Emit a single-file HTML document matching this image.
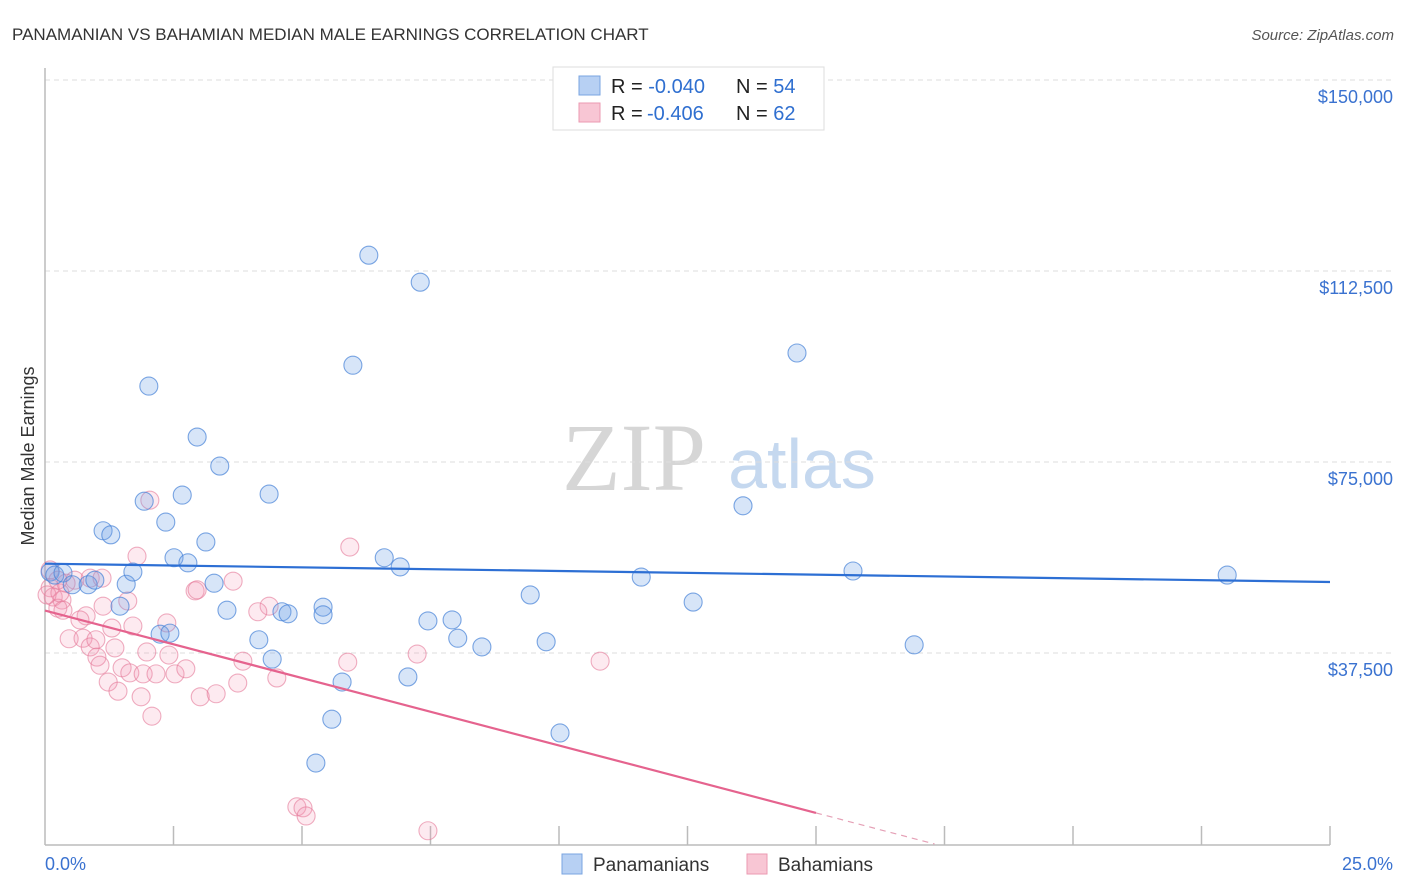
<!DOCTYPE html>
<html><head><meta charset="utf-8">
<style>
body{margin:0;background:#fff;font-family:"Liberation Sans",sans-serif;}
svg{display:block}
</style></head>
<body>
<svg id="chart" width="1406" height="892" viewBox="0 0 1406 892" xmlns="http://www.w3.org/2000/svg">
<text x="12" y="40" font-size="17" fill="#333">PANAMANIAN VS BAHAMIAN MEDIAN MALE EARNINGS CORRELATION CHART</text>
<text x="1394" y="40" font-size="15" fill="#555" font-style="italic" text-anchor="end">Source: ZipAtlas.com</text>
<g>
<text x="634" y="490" font-family="Liberation Serif,serif" font-size="96" fill="#d6d6d6" text-anchor="middle">ZIP</text>
<text x="802" y="488" font-size="70" fill="#c5d8ef" text-anchor="middle">atlas</text>
</g>
<g id="grid"></g>
<g id="axes"></g>
<text transform="translate(34,456) rotate(-90)" font-size="18" fill="#333" text-anchor="middle">Median Male Earnings</text>
<g id="points"></g>
<g id="trends"></g>
<g>
<rect x="553" y="67" width="271" height="63" fill="#fff" stroke="#ddd"/>
<rect x="579" y="76" width="21" height="19" fill="#b7d0f3" stroke="#7aa4e0"/>
<rect x="579" y="103" width="21" height="19" fill="#f8c6d4" stroke="#eb9ab2"/>
<text x="611" y="93" font-size="20" fill="#222">R = <tspan fill="#2f6fd0">-0.040</tspan><tspan x="736">N = </tspan><tspan fill="#2f6fd0">54</tspan></text>
<text x="611" y="120" font-size="20" fill="#222">R = <tspan fill="#2f6fd0" x="647">-0.406</tspan><tspan x="736">N = </tspan><tspan fill="#2f6fd0">62</tspan></text>
</g>
<g>
<rect x="562" y="854" width="20" height="20" fill="#b7d0f3" stroke="#7aa4e0"/>
<text x="593" y="871" font-size="19" fill="#333">Panamanians</text>
<rect x="747" y="854" width="20" height="20" fill="#f8c6d4" stroke="#eb9ab2"/>
<text x="778" y="871" font-size="19" fill="#333">Bahamians</text>
</g>
</svg>
<script>
const xTickLabels = ["0.0%", "25.0%"];
const yTicks = [37500, 75000, 112500, 150000];
const yTickLabels = ["$37,500", "$75,000", "$112,500", "$150,000"];
const blueX = [0.10,0.19,0.35,0.53,0.84,0.97,1.13,1.28,1.46,1.58,1.71,1.93,2.02,2.24,2.35,2.51,2.67,2.78,2.96,3.13,3.29,3.40,3.54,4.16,4.36,4.42,4.61,4.73,5.41,5.41,5.58,5.78,5.99,6.30,6.60,6.91,7.06,7.30,7.45,7.92,8.03,8.50,9.44,9.75,10.02,11.60,12.61,13.58,14.63,15.72,16.91,23.00,5.27,2.43];
const blueY = [53.4,52.8,53.2,50.9,50.9,51.8,61.5,60.7,46.7,51.0,53.4,67.3,89.9,41.2,63.2,56.2,68.5,55.2,79.9,59.3,51.2,74.2,45.9,40.1,68.7,36.3,45.6,45.2,46.5,45.0,24.5,31.8,94.0,115.6,56.2,54.4,32.8,110.3,43.8,44.0,40.4,38.7,48.9,39.7,21.8,52.4,47.5,66.4,96.4,53.6,39.1,52.8,15.9,41.4];
const pinkX = [1.79,3.66,2.92,4.36,4.14,1.61,1.13,0.80,1.30,1.71,2.37,0.47,0.74,1.36,1.98,2.41,0.88,1.01,1.07,1.50,1.65,1.91,2.16,2.53,2.74,3.85,3.75,4.51,1.23,1.42,1.87,3.02,3.33,2.08,4.90,5.02,5.08,5.89,0.10,0.16,0.33,0.25,0.35,0.58,0.88,0.10,2.04,2.96,5.93,7.24,7.45,10.80,0.04,0.29,0.41,1.11,0.68,0.99,0.25];
const pinkY = [56.5,51.6,49.7,46.7,45.6,47.7,46.7,44.8,42.4,42.8,43.4,40.3,40.4,38.5,37.7,37.1,38.7,36.7,35.1,34.6,33.6,33.4,33.4,33.4,34.4,35.9,31.6,32.6,31.8,30.0,28.9,28.9,29.5,25.1,7.3,7.1,5.5,35.7,50.3,48.5,47.9,46.3,45.9,51.8,52.2,53.8,67.5,49.9,58.3,37.3,2.6,35.9,48.9,49.3,51.2,52.2,44.0,40.1,51.8];

const NS="http://www.w3.org/2000/svg";
const X0=45,X1=1330,Y0=844,PX_PER_K=191/37.5;
const sx=p=>X0+(p/25)*(X1-X0);
const sy=k=>Y0-k*PX_PER_K;
function mk(tag,attrs,parent){const e=document.createElementNS(NS,tag);for(const k in attrs)e.setAttribute(k,attrs[k]);parent.appendChild(e);return e;}
const grid=document.getElementById('grid'),axes=document.getElementById('axes');
yTicks.forEach((v,i)=>{
  const y=sy(v/1000);
  const l=mk('line',{x1:X0,x2:1393,y1:y,y2:y,stroke:'#ddd','stroke-dasharray':'5,4'},grid);
  
  
  const t=mk('text',{x:1393,y:y+23,'font-size':18,fill:'#3a72d0','text-anchor':'end'},axes);
  t.textContent=yTickLabels[i];
  
  
});
mk('line',{x1:X0,x2:X0,y1:68,y2:Y0+1,stroke:'#bbb','stroke-width':1.5},axes);
mk('line',{x1:X0,x2:X1,y1:Y0+1,y2:Y0+1,stroke:'#bbb','stroke-width':1.5},axes);
for(let i=1;i<=10;i++){const x=X0+i*(X1-X0)/10;
  const tk=mk('line',{x1:x,x2:x,y1:826,y2:Y0+1,stroke:'#bbb','stroke-width':1.5},axes);
  
  
}
[[X0,'start'],[1393,'end']].forEach((a,i)=>{
  const t=mk('text',{x:a[0],y:870,'font-size':18,fill:'#3a72d0','text-anchor':a[1]},axes);
  t.textContent=xTickLabels[i];
  
  
});
const pts=document.getElementById('points');
function drawSeries(xs,ys,fill,stroke,name){
  xs.forEach((x,i)=>{
    const c=mk('circle',{cx:sx(x),cy:sy(ys[i]),r:9,fill:fill,stroke:stroke,'stroke-width':1.1},pts);
    
    
  });
}
drawSeries(pinkX,pinkY,'rgba(244,150,178,0.2)','rgba(228,120,152,0.6)','bahamian-point');
drawSeries(blueX,blueY,'rgba(110,160,230,0.28)','rgba(70,130,215,0.7)','panamanian-point');
function fit(xs,ys){const n=xs.length;let mx=0,my=0;for(let i=0;i<n;i++){mx+=xs[i];my+=ys[i];}mx/=n;my/=n;
  let sxy=0,sxx=0;for(let i=0;i<n;i++){sxy+=(xs[i]-mx)*(ys[i]-my);sxx+=(xs[i]-mx)**2;}const b=sxy/sxx;return [my-b*mx,b];}
const tr=document.getElementById('trends');
const [ba,bb]=fit(blueX,blueY);
const bl=mk('line',{x1:sx(0),y1:sy(ba),x2:sx(25),y2:sy(ba+bb*25),stroke:'#2d6fd4','stroke-width':2.2},tr);


const [pa,pb]=fit(pinkX,pinkY);
const xEnd=Math.min(25,pb<0?-pa/pb:25);
const pl=mk('line',{x1:sx(0),y1:sy(pa),x2:sx(15),y2:sy(pa+pb*15),stroke:'#e5638e','stroke-width':2.2},tr);


const pd=mk('line',{x1:sx(15),y1:sy(pa+pb*15),x2:sx(xEnd),y2:sy(pa+pb*xEnd),stroke:'#e5a0b6','stroke-width':1.2,'stroke-dasharray':'6,5'},tr);


</script>
</body></html>
